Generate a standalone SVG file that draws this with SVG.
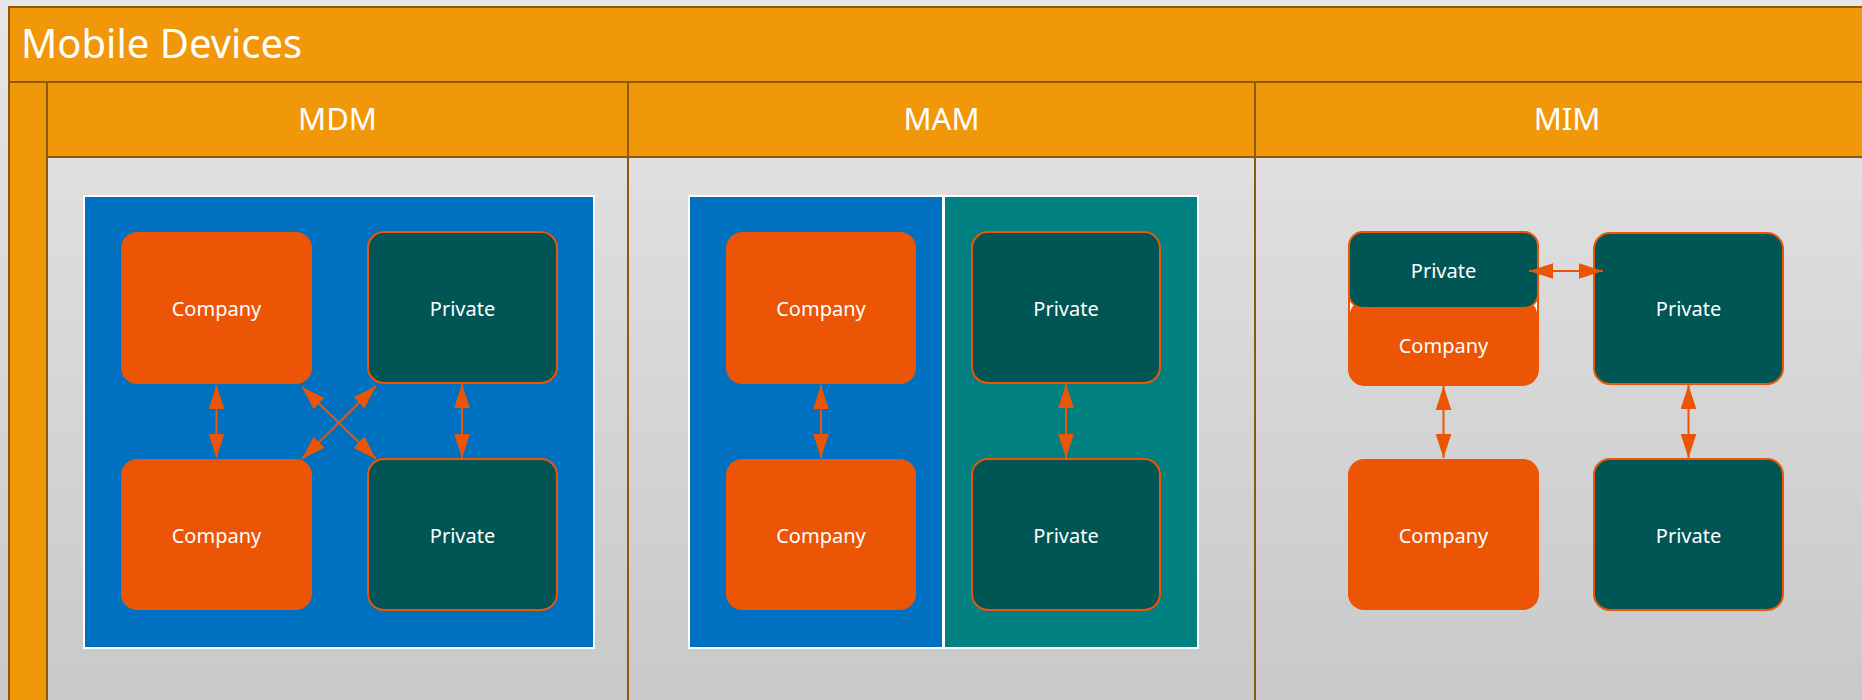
<svg xmlns="http://www.w3.org/2000/svg" width="1862" height="700" viewBox="0 0 1862 700">
<defs>
<linearGradient id="bg" x1="0" y1="0" x2="0" y2="1">
<stop offset="0" stop-color="#e6e6e6"/>
<stop offset="1" stop-color="#c9c9c9"/>
</linearGradient>
<marker id="ah" markerUnits="userSpaceOnUse" markerWidth="24" markerHeight="16" refX="23" refY="7.5" orient="auto-start-reverse" viewBox="0 0 23 15">
<path d="M0,0 L23,7.5 L0,15 Z" fill="#EB5505"/>
</marker>
</defs>
<style>
.hdr{fill:#F0980A;stroke:#8C5A0A;stroke-width:2}
.sep{stroke:#8C5A0A;stroke-width:2;fill:none}
.t{font-family:"Noto Sans","Open Sans",sans-serif;fill:#ffffff}
.nt{font-family:"Noto Sans","Open Sans",sans-serif;fill:#ffffff;font-size:20px;text-anchor:middle}
.ht{font-family:"Noto Sans","Open Sans",sans-serif;fill:#ffffff;font-size:31px;text-anchor:middle}
.co{fill:#EB5505}
.pr{fill:#005555;stroke:#EB5505;stroke-width:2}
.frame{stroke:#ffffff;stroke-width:2}
.conn{stroke:#EB5505;stroke-width:2;fill:none;marker-start:url(#ah);marker-end:url(#ah)}
</style>
<rect x="0" y="0" width="1862" height="700" fill="url(#bg)"/>
<g id="pool">
<rect x="9" y="7" width="1880" height="75" class="hdr"/>
<text x="21" y="58" class="t" font-size="40">Mobile Devices</text>
<rect x="9" y="82" width="38" height="640" class="hdr"/>
</g>
<g id="lane-mdm">
<rect x="47" y="82" width="581" height="75" class="hdr"/>
<text x="337.5" y="130" class="ht">MDM</text>
<line x1="628" y1="157" x2="628" y2="700" class="sep"/>
</g>
<g id="lane-mam">
<rect x="628" y="82" width="627" height="75" class="hdr"/>
<text x="941.5" y="130" class="ht">MAM</text>
<line x1="1255" y1="157" x2="1255" y2="700" class="sep"/>
</g>
<g id="lane-mim">
<rect x="1255" y="82" width="640" height="75" class="hdr"/>
<text x="1567" y="130" class="ht">MIM</text>
</g>
<g id="mdm-frame"><rect x="84" y="196" width="510" height="452" fill="#0070C0" class="frame"/></g>
<g id="mam-frame-company"><rect x="689" y="196" width="254" height="452" fill="#0070C0" class="frame"/></g>
<g id="mam-frame-private"><rect x="944" y="196" width="254" height="452" fill="#008080" class="frame"/></g>
<g id="mdm-company-1"><rect x="121" y="232" width="191" height="152" rx="16" class="co"/><text x="216.5" y="316" class="nt">Company</text></g>
<g id="mdm-private-1"><rect x="368" y="232" width="189" height="151" rx="16" class="pr"/><text x="462.5" y="316" class="nt">Private</text></g>
<g id="mdm-company-2"><rect x="121" y="459" width="191" height="151" rx="16" class="co"/><text x="216.5" y="543" class="nt">Company</text></g>
<g id="mdm-private-2"><rect x="368" y="459" width="189" height="151" rx="16" class="pr"/><text x="462.5" y="543" class="nt">Private</text></g>
<g id="mam-company-1"><rect x="726" y="232" width="190" height="152" rx="16" class="co"/><text x="821" y="316" class="nt">Company</text></g>
<g id="mam-company-2"><rect x="726" y="459" width="190" height="151" rx="16" class="co"/><text x="821" y="543" class="nt">Company</text></g>
<g id="mam-private-1"><rect x="972" y="232" width="188" height="151" rx="16" class="pr"/><text x="1066" y="316" class="nt">Private</text></g>
<g id="mam-private-2"><rect x="972" y="459" width="188" height="151" rx="16" class="pr"/><text x="1066" y="543" class="nt">Private</text></g>
<g id="mim-combined">
<rect x="1349" y="232" width="189" height="153" rx="16" fill="#ffffff" stroke="#EB5505" stroke-width="2"/>
<rect x="1350" y="302" width="187" height="83" rx="12" class="co"/>
<rect x="1349" y="232" width="189" height="76" rx="14" class="pr"/>
<text x="1443.5" y="278" class="nt">Private</text>
<text x="1443.5" y="353" class="nt">Company</text>
</g>
<g id="mim-private-1"><rect x="1594" y="233" width="189" height="151" rx="16" class="pr"/><text x="1688.5" y="316" class="nt">Private</text></g>
<g id="mim-company-2"><rect x="1348" y="459" width="191" height="151" rx="16" class="co"/><text x="1443.5" y="543" class="nt">Company</text></g>
<g id="mim-private-2"><rect x="1594" y="459" width="189" height="151" rx="16" class="pr"/><text x="1688.5" y="543" class="nt">Private</text></g>
<g id="connectors">
<line x1="216.5" y1="385" x2="216.5" y2="458" class="conn"/>
<line x1="462" y1="384" x2="462" y2="458" class="conn"/>
<line x1="302" y1="387" x2="376" y2="459" class="conn"/>
<line x1="376" y1="386" x2="302" y2="459" class="conn"/>
<line x1="821" y1="385" x2="821" y2="458" class="conn"/>
<line x1="1066" y1="384" x2="1066" y2="458" class="conn"/>
<line x1="1443.5" y1="386" x2="1443.5" y2="458" class="conn"/>
<line x1="1688.5" y1="385" x2="1688.5" y2="458" class="conn"/>
<line x1="1529" y1="271" x2="1603" y2="271" class="conn"/>
</g>
</svg>
